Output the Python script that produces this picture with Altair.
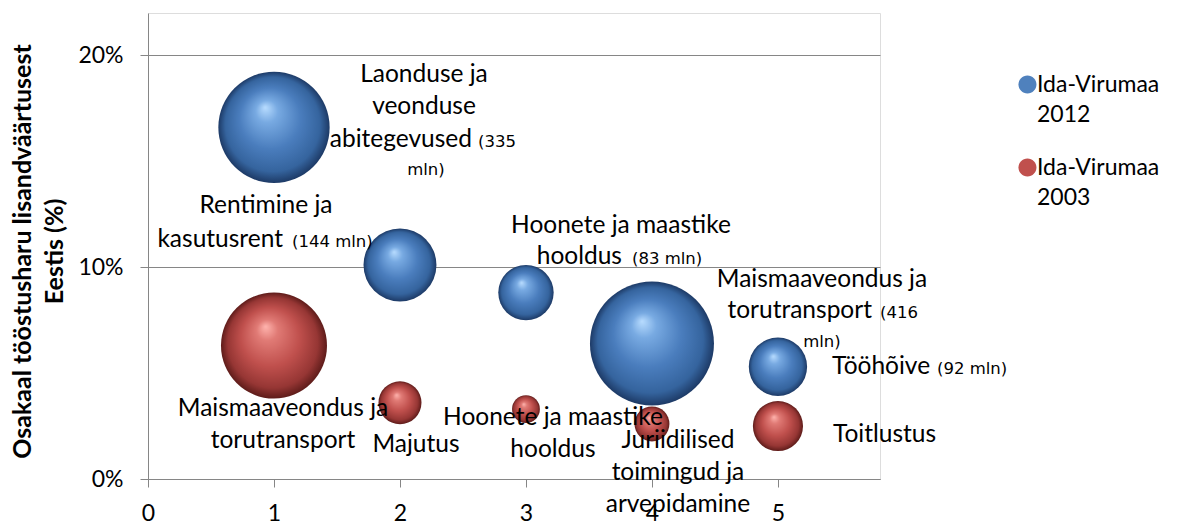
import altair as alt
import pandas as pd

# ---------------- data ----------------
series_names = ["Ida-Virumaa 2012", "Ida-Virumaa 2003"]

x_2012 = [1, 2, 3, 4, 5]
share_2012 = [0.166, 0.101, 0.088, 0.064, 0.053]
value_2012 = [335, 144, 83, 416, 92]          # mln, bubble size

x_2003 = [1, 2, 3, 4, 5]
share_2003 = [0.063, 0.036, 0.033, 0.026, 0.025]
value_2003 = [304, 50, 21, 33, 68]

x_ticks = [0, 1, 2, 3, 4, 5]
y_ticks = [0, 0.1, 0.2]
y_title = ["Osakaal tööstusharu lisandväärtusest", "Eestis (%)"]

# label texts (series index, point index, lines, kind)
label_texts = [
    (0, 0, ["Laonduse ja", "veonduse"], "big"),
    (0, 0, ["abitegevused"], "big"),
    (0, 0, ["(335"], "small"),
    (0, 0, ["mln)"], "small"),
    (0, 1, ["Rentimine ja"], "big"),
    (0, 1, ["kasutusrent"], "big"),
    (0, 1, ["(144 mln)"], "small"),
    (0, 2, ["Hoonete ja maastike"], "big"),
    (0, 2, ["hooldus"], "big"),
    (0, 2, ["(83 mln)"], "small"),
    (0, 3, ["Maismaaveondus ja"], "big"),
    (0, 3, ["torutransport"], "big"),
    (0, 3, ["(416"], "small"),
    (0, 3, ["mln)"], "small"),
    (0, 4, ["Tööhõive"], "big"),
    (0, 4, ["(92 mln)"], "small"),
    (1, 0, ["Maismaaveondus ja", "torutransport"], "big"),
    (1, 1, ["Majutus"], "big"),
    (1, 2, ["Hoonete ja maastike", "hooldus"], "big"),
    (1, 3, ["Juriidilised", "toimingud ja", "arvepidamine"], "big"),
    (1, 4, ["Toitlustus"], "big"),
]

# label placement (style): align, dx, dy in pixels from bubble centre
label_style = [
    ("center", 150, -45),
    ("right", 198, 20),
    ("left", 204, 20),
    ("center", 152, 48),
    ("center", -134, -52),
    ("right", -117, -18),
    ("left", -108, -18),
    ("center", 95, -60),
    ("right", 96, -29),
    ("left", 106, -29),
    ("center", 170, -56),
    ("right", 220, -25),
    ("left", 228, -25),
    ("center", 170, 4),
    ("left", 54, 7),
    ("left", 159, 7),
    ("center", 9, 70),
    ("center", 16, 49),
    ("center", 27, 16),
    ("center", 26, 24),
    ("left", 55, 16),
]

# ---------------- style ----------------
FONT = "Lato"
BIG = 24.5
TICK = 23
SMALL_FONT = "DejaVu Sans"
SMALL = 16.5
GREY = "#868686"
W, H = 732, 466

# legend symbol: unit circle nudged right/up so it sits beside the first label line
LEGEND_SYMBOL = "M -0.45,-0.78 A 1,1 0 1,1 1.55,-0.78 A 1,1 0 1,1 -0.45,-0.78 Z"

blue_grad = alt.RadialGradient(
    gradient="radial", x1=0.42, y1=0.32, r1=0, x2=0.5, y2=0.5, r2=0.5,
    stops=[
        alt.GradientStop(color="#b8dcff", offset=0),
        alt.GradientStop(color="#78aae2", offset=0.2),
        alt.GradientStop(color="#4a7dbd", offset=0.55),
        alt.GradientStop(color="#35649e", offset=0.85),
        alt.GradientStop(color="#1d3a66", offset=1),
    ],
)
red_grad = alt.RadialGradient(
    gradient="radial", x1=0.42, y1=0.32, r1=0, x2=0.5, y2=0.5, r2=0.5,
    stops=[
        alt.GradientStop(color="#ffb4ae", offset=0),
        alt.GradientStop(color="#e07a75", offset=0.2),
        alt.GradientStop(color="#c0504d", offset=0.55),
        alt.GradientStop(color="#963634", offset=0.85),
        alt.GradientStop(color="#5e1c1a", offset=1),
    ],
)

xscale = alt.Scale(domain=[0, 5.81], nice=False, zero=False)
yscale = alt.Scale(domain=[0, 0.22], nice=False, zero=False)

X = alt.X(
    "x:Q", scale=xscale,
    axis=alt.Axis(
        values=x_ticks, grid=False, domainColor=GREY, tickColor=GREY, tickSize=8,
        labelFont=FONT, labelFontSize=TICK, labelColor="black", labelPadding=15,
        labelFlush=False, title=None,
    ),
)
Y = alt.Y(
    "y:Q", scale=yscale,
    axis=alt.Axis(
        values=y_ticks, format="%", grid=True, gridColor=GREY, domainColor=GREY,
        tickColor=GREY, tickSize=8, labelFont=FONT, labelFontSize=TICK,
        labelColor="black", labelPadding=17, title=y_title, titleFont=FONT,
        titleFontSize=25, titleFontWeight="bold", titleColor="black",
        titleAngle=270, titleAlign="center", titleBaseline="top",
        titleX=-138, titleY=238, titleLineHeight=32,
    ),
)
S = alt.Size("v:Q", scale=alt.Scale(domain=[0, 416], range=[0, 15376]), legend=None)

df_2012 = pd.DataFrame({"x": x_2012, "y": share_2012, "v": value_2012, "series": series_names[0]})
df_2003 = pd.DataFrame({"x": x_2003, "y": share_2003, "v": value_2003, "series": series_names[1]})
df_all = pd.concat([df_2012, df_2003], ignore_index=True)

legend_layer = alt.Chart(df_all).mark_circle(opacity=0).encode(
    x=X, y=Y,
    color=alt.Color(
        "series:N",
        scale=alt.Scale(domain=series_names, range=["#4f81bd", "#c0504d"]),
        legend=alt.Legend(
            orient="none", legendX=863, legendY=67, title=None,
            symbolType=LEGEND_SYMBOL, symbolSize=324, symbolOpacity=1,
            symbolStrokeWidth=0, labelFont=FONT, labelFontSize=TICK,
            labelColor="black", labelExpr="split(datum.label, ' ')",
            labelBaseline="alphabetic", labelOffset=3, rowPadding=29,
            labelLimit=300,
        ),
    ),
)

blue_layer = alt.Chart(df_2012).mark_circle(
    fill=blue_grad, opacity=1, fillOpacity=1, strokeWidth=0
).encode(x=X, y=Y, size=S)
red_layer = alt.Chart(df_2003).mark_circle(
    fill=red_grad, opacity=1, fillOpacity=1, strokeWidth=0
).encode(x=X, y=Y, size=S)

layers = [legend_layer, blue_layer, red_layer]
series_data = [(x_2012, share_2012), (x_2003, share_2003)]
for (sidx, pidx, lines, kind), (align, dx, dy) in zip(label_texts, label_style):
    xs, ys = series_data[sidx]
    d = pd.DataFrame({"x": [xs[pidx]], "y": [ys[pidx]]})
    big = kind == "big"
    layers.append(
        alt.Chart(d).mark_text(
            text=lines, align=align, baseline="alphabetic", dx=dx, dy=dy,
            font=FONT if big else SMALL_FONT, fontSize=BIG if big else SMALL,
            lineHeight=32, color="black",
        ).encode(x=X, y=Y)
    )

chart = alt.layer(*layers).properties(
    width=W, height=H,
    padding={"left": 140, "top": 5, "right": 288, "bottom": 43},
    autosize=alt.AutoSizeParams(type="none"),
).configure_view(strokeWidth=0).configure(
    font=FONT, style={"guide-label": {"lineHeight": 30}}
)

chart.save("out.html", embed_options={"renderer": "svg", "actions": False})
